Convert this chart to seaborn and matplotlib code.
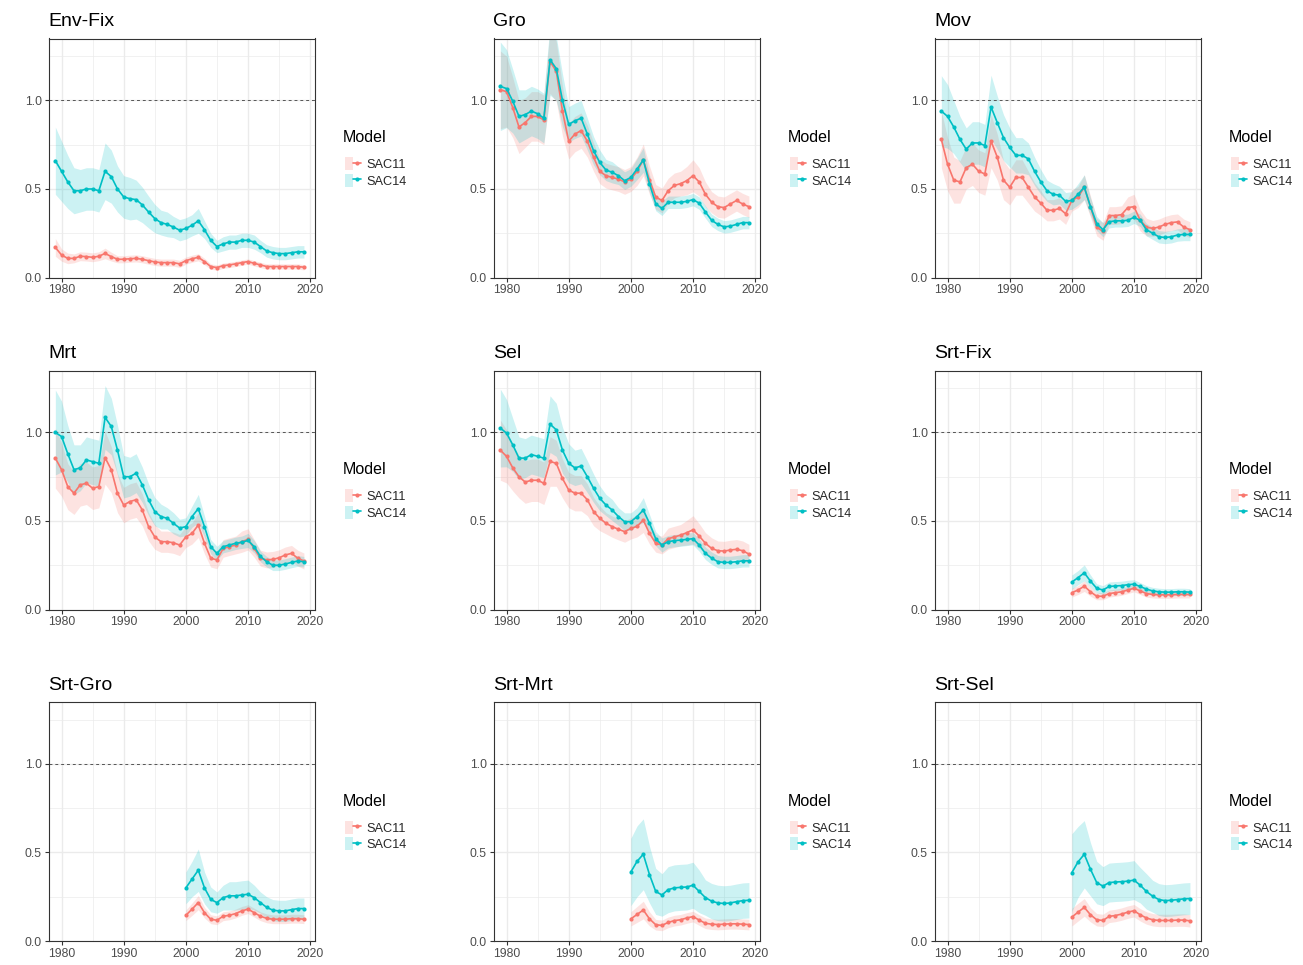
import matplotlib
matplotlib.use("Agg")
import matplotlib.pyplot as plt
import numpy as np
import pandas as pd
import seaborn as sns
from matplotlib.lines import Line2D
from matplotlib.patches import Patch
from matplotlib.legend_handler import HandlerTuple
from matplotlib.ticker import FixedLocator

sns.set_theme(style="white")
plt.rcParams["font.family"] = ["Liberation Sans", "DejaVu Sans"]

# ---------------------------------------------------------------- data
years_long = list(range(1979, 2020))
years_short = list(range(2000, 2020))
models = ["SAC11", "SAC14"]
panel_names = ["Env-Fix", "Gro", "Mov", "Mrt", "Sel", "Srt-Fix", "Srt-Gro", "Srt-Mrt", "Srt-Sel"]
palette = {"SAC11": "#F8766D", "SAC14": "#00BFC4"}

# estimates and half-widths of the uncertainty band, one value per year
envfix_sac11 = [0.17, 0.127, 0.108, 0.108, 0.12, 0.118, 0.114, 0.12, 0.136, 0.118,
                0.103, 0.103, 0.106, 0.108, 0.103, 0.095, 0.088, 0.084, 0.084, 0.084,
                0.077, 0.095, 0.106, 0.114, 0.09, 0.062, 0.056, 0.067, 0.071, 0.077,
                0.084, 0.09, 0.08, 0.071, 0.062, 0.062, 0.062, 0.062, 0.062, 0.062, 0.058]
envfix_sac11_err = [0.05, 0.035, 0.03, 0.025, 0.025, 0.025, 0.025, 0.025, 0.03, 0.025,
                    0.02, 0.02, 0.02, 0.02, 0.02, 0.02, 0.02, 0.02, 0.02, 0.02,
                    0.02, 0.02, 0.02, 0.02, 0.018, 0.015, 0.015, 0.015, 0.015, 0.015,
                    0.015, 0.015, 0.015, 0.015, 0.015, 0.015, 0.015, 0.015, 0.015, 0.015, 0.015]
envfix_sac14 = [0.66, 0.60, 0.54, 0.49, 0.49, 0.50, 0.50, 0.49, 0.60, 0.57,
                0.50, 0.455, 0.445, 0.44, 0.41, 0.37, 0.333, 0.31, 0.30, 0.285,
                0.267, 0.277, 0.295, 0.32, 0.27, 0.21, 0.175, 0.19, 0.20, 0.20,
                0.21, 0.21, 0.20, 0.175, 0.15, 0.14, 0.135, 0.135, 0.14, 0.145, 0.145]
envfix_sac14_err = [0.19, 0.17, 0.15, 0.13, 0.12, 0.12, 0.12, 0.12, 0.16, 0.15,
                    0.13, 0.12, 0.12, 0.11, 0.10, 0.09, 0.08, 0.07, 0.07, 0.06,
                    0.06, 0.06, 0.06, 0.07, 0.05, 0.04, 0.035, 0.04, 0.04, 0.04,
                    0.04, 0.04, 0.04, 0.035, 0.035, 0.035, 0.035, 0.035, 0.035, 0.035, 0.035]

gro_sac11 = [1.06, 1.05, 0.96, 0.85, 0.875, 0.91, 0.91, 0.89, 1.22, 1.165,
             0.94, 0.77, 0.81, 0.83, 0.77, 0.68, 0.60, 0.575, 0.565, 0.556,
             0.54, 0.556, 0.60, 0.664, 0.55, 0.455, 0.435, 0.49, 0.52, 0.53,
             0.547, 0.575, 0.54, 0.47, 0.425, 0.40, 0.395, 0.415, 0.435, 0.415, 0.40]
gro_sac11_err = [0.22, 0.20, 0.17, 0.15, 0.14, 0.14, 0.14, 0.14, 0.18, 0.17,
                 0.14, 0.10, 0.10, 0.10, 0.09, 0.08, 0.07, 0.07, 0.07, 0.07,
                 0.07, 0.07, 0.08, 0.09, 0.08, 0.07, 0.07, 0.07, 0.07, 0.07,
                 0.08, 0.09, 0.08, 0.07, 0.06, 0.06, 0.06, 0.06, 0.06, 0.06, 0.06]
gro_sac14 = [1.08, 1.067, 0.996, 0.91, 0.92, 0.94, 0.925, 0.90, 1.23, 1.18,
             1.00, 0.865, 0.885, 0.90, 0.81, 0.716, 0.65, 0.607, 0.594, 0.575,
             0.547, 0.565, 0.613, 0.664, 0.53, 0.417, 0.39, 0.425, 0.425, 0.425,
             0.43, 0.44, 0.42, 0.37, 0.323, 0.30, 0.286, 0.29, 0.30, 0.31, 0.31]
gro_sac14_err = [0.25, 0.22, 0.18, 0.15, 0.14, 0.14, 0.14, 0.14, 0.20, 0.18,
                 0.15, 0.10, 0.10, 0.10, 0.09, 0.08, 0.07, 0.06, 0.06, 0.05,
                 0.05, 0.05, 0.06, 0.07, 0.05, 0.04, 0.04, 0.035, 0.035, 0.035,
                 0.035, 0.035, 0.035, 0.035, 0.035, 0.035, 0.035, 0.035, 0.035, 0.035, 0.035]

mov_sac11 = [0.78, 0.64, 0.55, 0.54, 0.62, 0.64, 0.60, 0.585, 0.77, 0.68,
             0.55, 0.51, 0.565, 0.565, 0.51, 0.455, 0.42, 0.38, 0.38, 0.39,
             0.36, 0.435, 0.455, 0.51, 0.40, 0.285, 0.26, 0.35, 0.35, 0.355,
             0.395, 0.40, 0.323, 0.285, 0.277, 0.285, 0.30, 0.31, 0.314, 0.285, 0.27]
mov_sac11_err = [0.16, 0.15, 0.13, 0.12, 0.12, 0.12, 0.12, 0.12, 0.15, 0.13,
                 0.11, 0.10, 0.10, 0.10, 0.09, 0.08, 0.07, 0.06, 0.06, 0.06,
                 0.06, 0.06, 0.06, 0.07, 0.06, 0.05, 0.05, 0.05, 0.05, 0.05,
                 0.06, 0.07, 0.06, 0.05, 0.045, 0.045, 0.045, 0.045, 0.045, 0.045, 0.045]
mov_sac14 = [0.94, 0.91, 0.85, 0.78, 0.725, 0.76, 0.76, 0.745, 0.963, 0.875,
             0.79, 0.735, 0.69, 0.69, 0.67, 0.60, 0.54, 0.49, 0.47, 0.465,
             0.43, 0.435, 0.47, 0.51, 0.40, 0.305, 0.27, 0.315, 0.32, 0.32,
             0.323, 0.34, 0.323, 0.27, 0.25, 0.23, 0.226, 0.23, 0.24, 0.243, 0.243]
mov_sac14_err = [0.20, 0.18, 0.15, 0.13, 0.12, 0.12, 0.12, 0.12, 0.18, 0.15,
                 0.13, 0.11, 0.10, 0.10, 0.09, 0.08, 0.07, 0.06, 0.06, 0.05,
                 0.05, 0.05, 0.06, 0.07, 0.05, 0.04, 0.04, 0.035, 0.035, 0.035,
                 0.035, 0.035, 0.035, 0.035, 0.035, 0.035, 0.035, 0.035, 0.035, 0.035, 0.035]

mrt_sac11 = [0.855, 0.79, 0.694, 0.657, 0.704, 0.713, 0.685, 0.694, 0.858, 0.79,
             0.657, 0.59, 0.61, 0.62, 0.562, 0.468, 0.41, 0.383, 0.383, 0.377,
             0.364, 0.41, 0.43, 0.477, 0.374, 0.29, 0.28, 0.345, 0.355, 0.364,
             0.383, 0.396, 0.345, 0.29, 0.28, 0.283, 0.292, 0.308, 0.317, 0.29, 0.274]
mrt_sac11_err = [0.17, 0.15, 0.13, 0.12, 0.12, 0.12, 0.12, 0.12, 0.15, 0.13,
                 0.11, 0.10, 0.10, 0.10, 0.09, 0.08, 0.07, 0.06, 0.06, 0.06,
                 0.06, 0.06, 0.06, 0.07, 0.06, 0.05, 0.05, 0.05, 0.05, 0.05,
                 0.06, 0.06, 0.05, 0.045, 0.045, 0.045, 0.045, 0.045, 0.045, 0.045, 0.045]
mrt_sac14 = [1.00, 0.977, 0.88, 0.79, 0.80, 0.845, 0.835, 0.826, 1.085, 1.034,
             0.90, 0.75, 0.75, 0.77, 0.704, 0.62, 0.553, 0.525, 0.515, 0.487,
             0.46, 0.468, 0.525, 0.57, 0.468, 0.355, 0.317, 0.355, 0.364, 0.374,
             0.38, 0.39, 0.355, 0.30, 0.27, 0.25, 0.25, 0.257, 0.266, 0.274, 0.27]
mrt_sac14_err = [0.24, 0.20, 0.16, 0.14, 0.13, 0.13, 0.13, 0.13, 0.18, 0.16,
                 0.14, 0.12, 0.11, 0.11, 0.10, 0.09, 0.08, 0.07, 0.06, 0.06,
                 0.05, 0.05, 0.06, 0.08, 0.06, 0.04, 0.04, 0.035, 0.035, 0.035,
                 0.035, 0.04, 0.035, 0.03, 0.03, 0.03, 0.03, 0.03, 0.03, 0.03, 0.03]

sel_sac11 = [0.90, 0.865, 0.80, 0.75, 0.72, 0.73, 0.73, 0.713, 0.836, 0.826,
             0.74, 0.675, 0.657, 0.657, 0.62, 0.553, 0.515, 0.487, 0.468, 0.453,
             0.44, 0.458, 0.47, 0.505, 0.43, 0.374, 0.364, 0.40, 0.41, 0.42,
             0.434, 0.45, 0.415, 0.374, 0.345, 0.332, 0.33, 0.336, 0.34, 0.332, 0.313]
sel_sac11_err = [0.17, 0.15, 0.13, 0.12, 0.12, 0.12, 0.12, 0.12, 0.14, 0.13,
                 0.11, 0.10, 0.10, 0.10, 0.09, 0.08, 0.07, 0.06, 0.06, 0.06,
                 0.06, 0.06, 0.06, 0.07, 0.06, 0.05, 0.05, 0.06, 0.06, 0.06,
                 0.07, 0.08, 0.07, 0.06, 0.06, 0.055, 0.055, 0.055, 0.055, 0.055, 0.055]
sel_sac14 = [1.025, 0.996, 0.93, 0.855, 0.855, 0.875, 0.865, 0.855, 1.047, 1.015,
             0.90, 0.826, 0.80, 0.81, 0.75, 0.685, 0.628, 0.59, 0.562, 0.525,
             0.496, 0.496, 0.525, 0.562, 0.487, 0.40, 0.364, 0.383, 0.389, 0.392,
             0.396, 0.40, 0.364, 0.317, 0.29, 0.27, 0.266, 0.266, 0.27, 0.275, 0.275]
sel_sac14_err = [0.22, 0.19, 0.15, 0.12, 0.11, 0.11, 0.11, 0.11, 0.16, 0.15,
                 0.13, 0.11, 0.10, 0.10, 0.09, 0.08, 0.07, 0.06, 0.06, 0.05,
                 0.05, 0.05, 0.05, 0.07, 0.05, 0.04, 0.04, 0.035, 0.035, 0.035,
                 0.035, 0.035, 0.035, 0.035, 0.035, 0.035, 0.035, 0.035, 0.035, 0.035, 0.035]

srtfix_sac11 = [0.095, 0.11, 0.132, 0.10, 0.075, 0.075, 0.09, 0.095, 0.10, 0.11,
                0.12, 0.105, 0.09, 0.085, 0.083, 0.083, 0.083, 0.085, 0.085, 0.085]
srtfix_sac11_err = [0.025, 0.025, 0.03, 0.025, 0.02, 0.02, 0.02, 0.02, 0.02, 0.02,
                    0.02, 0.02, 0.02, 0.02, 0.02, 0.02, 0.02, 0.02, 0.02, 0.02]
srtfix_sac14 = [0.155, 0.18, 0.207, 0.16, 0.12, 0.11, 0.13, 0.133, 0.135, 0.14,
                0.143, 0.13, 0.115, 0.105, 0.10, 0.098, 0.098, 0.10, 0.10, 0.098]
srtfix_sac14_err = [0.04, 0.04, 0.045, 0.035, 0.025, 0.025, 0.025, 0.025, 0.025, 0.025,
                    0.025, 0.022, 0.02, 0.02, 0.02, 0.02, 0.02, 0.02, 0.02, 0.02]

srtgro_sac11 = [0.145, 0.18, 0.217, 0.16, 0.123, 0.117, 0.14, 0.145, 0.155, 0.17,
                0.18, 0.16, 0.14, 0.128, 0.123, 0.123, 0.123, 0.126, 0.126, 0.123]
srtgro_sac11_err = [0.03, 0.035, 0.04, 0.03, 0.025, 0.025, 0.025, 0.025, 0.025, 0.025,
                    0.025, 0.025, 0.025, 0.025, 0.025, 0.025, 0.025, 0.025, 0.025, 0.025]
srtgro_sac14 = [0.30, 0.35, 0.40, 0.30, 0.235, 0.217, 0.245, 0.255, 0.255, 0.26,
                0.264, 0.245, 0.217, 0.19, 0.174, 0.17, 0.17, 0.177, 0.183, 0.183]
srtgro_sac14_err = [0.09, 0.10, 0.12, 0.09, 0.07, 0.06, 0.07, 0.08, 0.08, 0.08,
                    0.08, 0.07, 0.06, 0.06, 0.06, 0.06, 0.06, 0.06, 0.06, 0.06]

srtmrt_sac11 = [0.125, 0.15, 0.175, 0.125, 0.092, 0.088, 0.105, 0.115, 0.12, 0.13,
                0.138, 0.118, 0.10, 0.095, 0.093, 0.095, 0.097, 0.097, 0.095, 0.093]
srtmrt_sac11_err = [0.04, 0.045, 0.05, 0.04, 0.03, 0.03, 0.03, 0.03, 0.03, 0.03,
                    0.03, 0.03, 0.03, 0.03, 0.03, 0.03, 0.03, 0.03, 0.03, 0.03]
srtmrt_sac14 = [0.39, 0.45, 0.49, 0.375, 0.28, 0.26, 0.29, 0.30, 0.303, 0.305,
                0.315, 0.28, 0.245, 0.225, 0.215, 0.212, 0.215, 0.222, 0.228, 0.23]
srtmrt_sac14_err = [0.19, 0.20, 0.20, 0.16, 0.13, 0.12, 0.13, 0.13, 0.13, 0.13,
                    0.13, 0.12, 0.10, 0.10, 0.10, 0.10, 0.10, 0.10, 0.10, 0.10]

srtsel_sac11 = [0.135, 0.163, 0.19, 0.148, 0.12, 0.116, 0.139, 0.144, 0.152, 0.163,
                0.171, 0.148, 0.13, 0.12, 0.116, 0.116, 0.116, 0.118, 0.118, 0.114]
srtsel_sac11_err = [0.05, 0.05, 0.05, 0.04, 0.035, 0.035, 0.035, 0.035, 0.035, 0.035,
                    0.035, 0.035, 0.035, 0.035, 0.035, 0.035, 0.035, 0.035, 0.035, 0.035]
srtsel_sac14 = [0.386, 0.447, 0.49, 0.405, 0.33, 0.31, 0.33, 0.333, 0.335, 0.338,
                0.344, 0.315, 0.28, 0.253, 0.234, 0.228, 0.23, 0.234, 0.238, 0.24]
srtsel_sac14_err = [0.22, 0.20, 0.19, 0.15, 0.12, 0.11, 0.11, 0.11, 0.11, 0.11,
                    0.11, 0.10, 0.10, 0.09, 0.09, 0.09, 0.09, 0.09, 0.09, 0.09]

panel_data = {
    "Env-Fix": (years_long, {"SAC11": (envfix_sac11, envfix_sac11_err), "SAC14": (envfix_sac14, envfix_sac14_err)}),
    "Gro": (years_long, {"SAC11": (gro_sac11, gro_sac11_err), "SAC14": (gro_sac14, gro_sac14_err)}),
    "Mov": (years_long, {"SAC11": (mov_sac11, mov_sac11_err), "SAC14": (mov_sac14, mov_sac14_err)}),
    "Mrt": (years_long, {"SAC11": (mrt_sac11, mrt_sac11_err), "SAC14": (mrt_sac14, mrt_sac14_err)}),
    "Sel": (years_long, {"SAC11": (sel_sac11, sel_sac11_err), "SAC14": (sel_sac14, sel_sac14_err)}),
    "Srt-Fix": (years_short, {"SAC11": (srtfix_sac11, srtfix_sac11_err), "SAC14": (srtfix_sac14, srtfix_sac14_err)}),
    "Srt-Gro": (years_short, {"SAC11": (srtgro_sac11, srtgro_sac11_err), "SAC14": (srtgro_sac14, srtgro_sac14_err)}),
    "Srt-Mrt": (years_short, {"SAC11": (srtmrt_sac11, srtmrt_sac11_err), "SAC14": (srtmrt_sac14, srtmrt_sac14_err)}),
    "Srt-Sel": (years_short, {"SAC11": (srtsel_sac11, srtsel_sac11_err), "SAC14": (srtsel_sac14, srtsel_sac14_err)}),
}

x_major = [1980, 1990, 2000, 2010, 2020]
x_minor = [1985, 1995, 2005, 2015]
y_major = [0.0, 0.5, 1.0]
y_minor = [0.25, 0.75, 1.25]
y_labels = ["0.0", "0.5", "1.0"]

# ---------------------------------------------------------------- layout (pixels)
W, H = 1303, 965
fig = plt.figure(figsize=(W / 100, H / 100), dpi=100)
fig.patch.set_facecolor("white")

col_left = [48.5, 493.5, 934.5]
row_top = [38.5, 370.5, 702.0]
pw, ph = 266.0, 239.0

axis_grey = "#333333"
text_grey = "#4D4D4D"
grid_grey = "#EBEBEB"

for i, name in enumerate(panel_names):
    r, c = divmod(i, 3)
    left, top = col_left[c], row_top[r]
    ax = fig.add_axes([left / W, 1 - (top + ph) / H, pw / W, ph / H])
    ax.set_facecolor("white")

    years, by_model = panel_data[name]
    frames = []
    for m in models:
        est, err = by_model[m]
        est = np.asarray(est)
        err = np.asarray(err)
        frames.append(pd.DataFrame({"Year": years, "Estimate": est,
                                    "Lower": est - err, "Upper": est + err,
                                    "Model": m}))
    df = pd.concat(frames, ignore_index=True)

    ax.grid(True, which="major", color=grid_grey, linewidth=1.0, zorder=0)
    ax.grid(True, which="minor", color=grid_grey, linewidth=0.5, zorder=0)
    ax.set_axisbelow(True)

    for m in models:
        sub = df[df["Model"] == m]
        ax.fill_between(sub["Year"], sub["Lower"], sub["Upper"],
                        color=palette[m], alpha=0.2, linewidth=0, zorder=1)

    ax.axhline(1.0, color="#555555", linewidth=0.7, linestyle=(0, (3, 3)), zorder=2)

    sns.lineplot(data=df, x="Year", y="Estimate", hue="Model", hue_order=models,
                 palette=palette, marker="o", markersize=3.0, markeredgewidth=0,
                 linewidth=1.2, errorbar=None, legend=False, ax=ax, zorder=3)

    ax.set_xlim(1977.9, 2020.7)
    ax.set_ylim(0, 1.35)
    ax.xaxis.set_major_locator(FixedLocator(x_major))
    ax.xaxis.set_minor_locator(FixedLocator(x_minor))
    ax.yaxis.set_major_locator(FixedLocator(y_major))
    ax.yaxis.set_minor_locator(FixedLocator(y_minor))
    ax.set_xticklabels([str(v) for v in x_major])
    ax.set_yticklabels(y_labels)
    ax.set_xlabel("")
    ax.set_ylabel("")
    ax.tick_params(which="major", direction="out", length=2.75, width=0.8,
                   color=axis_grey, labelsize=8.8, labelcolor=text_grey, pad=2,
                   bottom=True, left=True)
    ax.tick_params(which="minor", length=0)
    for sp in ax.spines.values():
        sp.set_visible(True)
        sp.set_color(axis_grey)
        sp.set_linewidth(0.8)

    ax.set_title(name, loc="left", fontsize=14, color="black", pad=9)

    # legend to the right of each panel
    ax.text(1 + 28.5 / pw, 1 - 99.5 / ph, "Model", transform=ax.transAxes,
            fontsize=11.5, color="black", ha="left", va="center")
    handles = [(Patch(facecolor=palette[m], alpha=0.2, edgecolor="none"),
                Line2D([], [], color=palette[m], marker="o", markersize=3.0,
                       markeredgewidth=0, linewidth=1.2)) for m in models]
    ax.legend(handles, models, handler_map={tuple: HandlerTuple(ndivide=None, pad=0)},
              loc="center left", bbox_to_anchor=(1 + 30 / pw, 1 - 134 / ph),
              frameon=False, fontsize=9.2, handlelength=1.3, handleheight=1.2,
              labelspacing=0.2, handletextpad=0.45, borderpad=0, borderaxespad=0)

fig.savefig("out.png", dpi=100, facecolor="white")
